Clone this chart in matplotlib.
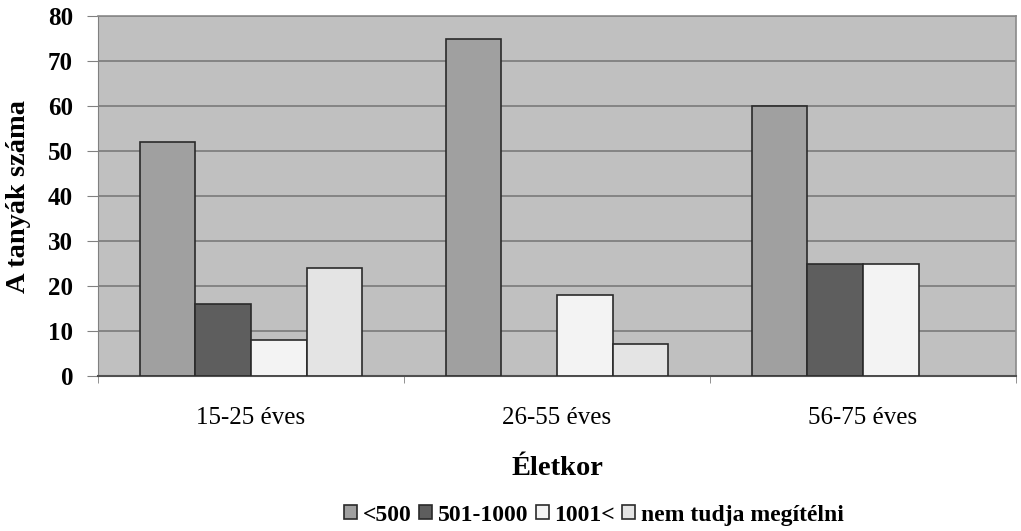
import matplotlib
matplotlib.use("Agg")
import matplotlib.pyplot as plt
import numpy as np

categories = ["15-25 éves", "26-55 éves", "56-75 éves"]
series_names = ["<500", "501-1000", "1001<", "nem tudja megítélni"]
v_lt500 = [52, 75, 60]
v_501_1000 = [16, 0, 25]
v_1001 = [8, 18, 25]
v_nem_tudja = [24, 7, 0]
series_values = [v_lt500, v_501_1000, v_1001, v_nem_tudja]
series_colors = ["#a0a0a0", "#5e5e5e", "#f3f3f3", "#e4e4e4"]
y_ticks = [0, 10, 20, 30, 40, 50, 60, 70, 80]

plt.rcParams["font.family"] = ["Liberation Serif", "DejaVu Serif"]

fig = plt.figure(figsize=(10.21, 5.31), dpi=100)
ax = fig.add_axes([0.096, 0.292, 0.899, 0.677])
ax.set_facecolor("#c0c0c0")

n = len(series_names)
w = 1.0 / (n + 1.5)
x = np.arange(len(categories))
handles = []
for i, (name, vals, col) in enumerate(zip(series_names, series_values, series_colors)):
    offs = x + (i - (n - 1) / 2) * w
    vals = np.array(vals, dtype=float)
    keep = vals > 0
    bars = ax.bar(offs[keep], vals[keep], width=w, color=col,
                  edgecolor="#2a2a2a", linewidth=1.2, zorder=3, label=name)
    handles.append(bars)

ax.set_xlim(-0.5, len(categories) - 0.5)
ax.set_ylim(0, 80)
ax.set_yticks(y_ticks)
ax.set_yticklabels([str(t) for t in y_ticks], fontsize=18, fontweight="bold")
ax.yaxis.grid(True, color="#7a7a7a", linewidth=1.2, zorder=1)
ax.set_axisbelow(True)

ax.set_xticks(x)
ax.set_xticklabels(categories, fontsize=18)
ax.tick_params(axis="x", length=0, pad=22)
ax.set_xticks(np.arange(len(categories) + 1) - 0.5, minor=True)
ax.tick_params(axis="x", which="minor", length=5, color="#808080", direction="out")
ax.tick_params(axis="y", length=8, color="#808080", direction="out", pad=10)

for side in ["top", "right"]:
    ax.spines[side].set_color("#8a8a8a")
    ax.spines[side].set_linewidth(1.2)
ax.spines["left"].set_color("#808080")
ax.spines["bottom"].set_color("#505050")
ax.spines["bottom"].set_linewidth(1.5)

ax.set_ylabel("A tanyák száma", fontsize=20.5, fontweight="bold", labelpad=12)
ax.set_xlabel("Életkor", fontsize=20.5, fontweight="bold", labelpad=20)

leg = fig.legend(handles=handles, labels=series_names, loc="center",
                 bbox_to_anchor=(0.582, 0.03), ncol=4, frameon=False,
                 prop={"family": ["Liberation Serif"], "weight": "bold", "size": 17},
                 handlelength=0.55, handleheight=0.55, handletextpad=0.25,
                 columnspacing=0.3, borderpad=0)

fig.savefig("out.png", dpi=100, facecolor="white")
